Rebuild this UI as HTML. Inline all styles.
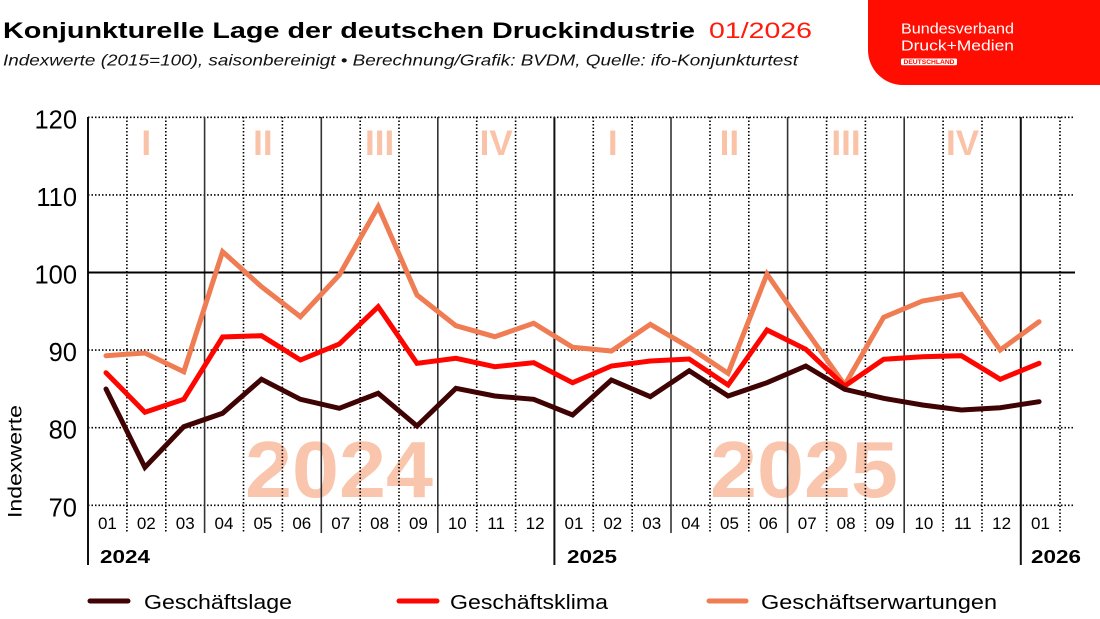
<!DOCTYPE html>
<html>
<head>
<meta charset="utf-8">
<style>
html,body{margin:0;padding:0;background:#fff;}
svg{display:block;}
text{font-family:"Liberation Sans",sans-serif;}
</style>
</head>
<body>
<svg width="1100" height="619" viewBox="0 0 1100 619" xmlns="http://www.w3.org/2000/svg">
  <rect width="1100" height="619" fill="#fff"/>

  <!-- Header -->
  <text x="3" y="38" font-size="22" font-weight="bold" fill="#000" textLength="692" lengthAdjust="spacingAndGlyphs">Konjunkturelle Lage der deutschen Druckindustrie</text>
  <text x="709" y="38" font-size="22" fill="#ff1a0a" textLength="103" lengthAdjust="spacingAndGlyphs">01/2026</text>
  <text x="3" y="65.5" font-size="16" font-style="italic" fill="#111" textLength="795" lengthAdjust="spacingAndGlyphs">Indexwerte (2015=100), saisonbereinigt • Berechnung/Grafik: BVDM, Quelle: ifo-Konjunkturtest</text>

  <!-- Logo -->
  <path d="M868,0 H1100 V85 H903 A35,35 0 0 1 868,50 Z" fill="#ff0d00"/>
  <text x="901" y="33.3" font-size="15" fill="#fff" textLength="113" lengthAdjust="spacingAndGlyphs">Bundesverband</text>
  <text x="901" y="50.7" font-size="15" fill="#fff" textLength="113" lengthAdjust="spacingAndGlyphs">Druck+Medien</text>
  <rect x="901" y="58.5" width="56" height="6.8" rx="1.5" fill="#fff"/>
  <text x="903.5" y="64" font-size="6" font-weight="bold" fill="#ff0d00" textLength="51" lengthAdjust="spacingAndGlyphs">DEUTSCHLAND</text>

  <!-- Watermarks -->
  <g font-weight="bold" fill="#f9c6ad">
    <text x="245" y="497" font-size="80" textLength="188" lengthAdjust="spacingAndGlyphs">2024</text>
    <text x="710" y="497" font-size="80" textLength="188" lengthAdjust="spacingAndGlyphs">2025</text>
  </g>

  <!-- Quarter labels -->
  <g font-weight="bold" fill="#fac3a8" font-size="35" text-anchor="middle">
    <text x="146.3" y="155">I</text>
    <text x="262.9" y="155">II</text>
    <text x="379.6" y="155">III</text>
    <text x="496.2" y="155">IV</text>
    <text x="612.7" y="155">I</text>
    <text x="729.4" y="155">II</text>
    <text x="846" y="155">III</text>
    <text x="962.6" y="155">IV</text>
  </g>

  <!-- Horizontal dotted gridlines -->
  <g stroke="#000" stroke-width="1.6" stroke-dasharray="1.5,2" fill="none">
    <line x1="88" y1="117.3" x2="1075" y2="117.3"/>
    <line x1="88" y1="194.9" x2="1075" y2="194.9"/>
    <line x1="88" y1="350.1" x2="1075" y2="350.1"/>
    <line x1="88" y1="427.7" x2="1075" y2="427.7"/>
    <line x1="88" y1="505.3" x2="1075" y2="505.3"/>
  </g>

  <!-- Vertical dotted month lines -->
  <g stroke="#000" stroke-width="1.6" stroke-dasharray="1.5,2" fill="none">
    <line x1="126.9" y1="117" x2="126.9" y2="533"/>
    <line x1="165.8" y1="117" x2="165.8" y2="533"/>
    <line x1="243.5" y1="117" x2="243.5" y2="533"/>
    <line x1="282.4" y1="117" x2="282.4" y2="533"/>
    <line x1="360.2" y1="117" x2="360.2" y2="533"/>
    <line x1="399" y1="117" x2="399" y2="533"/>
    <line x1="476.7" y1="117" x2="476.7" y2="533"/>
    <line x1="515.6" y1="117" x2="515.6" y2="533"/>
    <line x1="593.3" y1="117" x2="593.3" y2="533"/>
    <line x1="632.2" y1="117" x2="632.2" y2="533"/>
    <line x1="710" y1="117" x2="710" y2="533"/>
    <line x1="748.8" y1="117" x2="748.8" y2="533"/>
    <line x1="826.6" y1="117" x2="826.6" y2="533"/>
    <line x1="865.4" y1="117" x2="865.4" y2="533"/>
    <line x1="943.1" y1="117" x2="943.1" y2="533"/>
    <line x1="982" y1="117" x2="982" y2="533"/>
    <line x1="1060" y1="117" x2="1060" y2="533"/>
  </g>

  <!-- Quarter solid lines -->
  <g stroke="#333" stroke-width="1.6" fill="none">
    <line x1="204.6" y1="117" x2="204.6" y2="533"/>
    <line x1="321.3" y1="117" x2="321.3" y2="533"/>
    <line x1="437.8" y1="117" x2="437.8" y2="533"/>
    <line x1="671" y1="117" x2="671" y2="533"/>
    <line x1="787.6" y1="117" x2="787.6" y2="533"/>
    <line x1="904.2" y1="117" x2="904.2" y2="533"/>
  </g>
  <!-- Year lines -->
  <g stroke="#111" stroke-width="2" fill="none">
    <line x1="88" y1="117" x2="88" y2="565"/>
    <line x1="554.4" y1="117" x2="554.4" y2="565"/>
    <line x1="1020.8" y1="117" x2="1020.8" y2="565"/>
  </g>
  <!-- 100 line -->
  <line x1="88" y1="272.5" x2="1075" y2="272.5" stroke="#000" stroke-width="2"/>

  <!-- Y axis labels -->
  <g font-size="25.5" fill="#000" text-anchor="end">
    <text x="77" y="128.3">120</text>
    <text x="77" y="205.9">110</text>
    <text x="77" y="283.5">100</text>
    <text x="77" y="361.1">90</text>
    <text x="77" y="438.7">80</text>
    <text x="77" y="516.3">70</text>
  </g>
  <text transform="translate(21.5,461.5) rotate(-90)" font-size="19.5" text-anchor="middle" fill="#000" textLength="113" lengthAdjust="spacingAndGlyphs">Indexwerte</text>

  <!-- Month labels -->
  <g font-size="17" fill="#000" text-anchor="middle">
    <text x="107.4" y="529">01</text>
    <text x="146.3" y="529">02</text>
    <text x="185.2" y="529">03</text>
    <text x="224" y="529">04</text>
    <text x="262.9" y="529">05</text>
    <text x="301.8" y="529">06</text>
    <text x="340.7" y="529">07</text>
    <text x="379.6" y="529">08</text>
    <text x="418.4" y="529">09</text>
    <text x="457.3" y="529">10</text>
    <text x="496.2" y="529">11</text>
    <text x="535.1" y="529">12</text>
    <text x="574" y="529">01</text>
    <text x="612.8" y="529">02</text>
    <text x="651.7" y="529">03</text>
    <text x="690.6" y="529">04</text>
    <text x="729.5" y="529">05</text>
    <text x="768.4" y="529">06</text>
    <text x="807.2" y="529">07</text>
    <text x="846.1" y="529">08</text>
    <text x="885" y="529">09</text>
    <text x="923.9" y="529">10</text>
    <text x="962.8" y="529">11</text>
    <text x="1001.6" y="529">12</text>
    <text x="1040.5" y="529">01</text>
  </g>
  <g font-size="18" font-weight="bold" fill="#000">
    <text x="100" y="563" textLength="50" lengthAdjust="spacingAndGlyphs">2024</text>
    <text x="567" y="563" textLength="50" lengthAdjust="spacingAndGlyphs">2025</text>
    <text x="1031" y="563" textLength="50" lengthAdjust="spacingAndGlyphs">2026</text>
  </g>

  <!-- Series -->
  <g fill="none" stroke-width="5" stroke-linecap="round" stroke-linejoin="miter" stroke-miterlimit="10">
    <polyline stroke="#ef7c52" points="106,355.7 144.9,353 183.8,371.7 222.6,251.7 261.5,286.7 300.4,316.7 339.3,275 378.2,206.7 417,295 455.9,325.7 494.8,336.7 533.7,323.3 572.6,347.3 611.4,351 650.3,324.3 689.2,347.3 728.1,373.3 767,274 805.8,330 844.7,385 883.6,317.3 922.5,301 961.4,294.3 1000.2,350 1039.1,321.7"/>
    <polyline stroke="#ff0500" points="106,372.7 144.9,412.3 183.8,399.3 222.6,337 261.5,335.7 300.4,360 339.3,344 378.2,306.7 417,363.3 455.9,358.3 494.8,366.7 533.7,362.7 572.6,382.7 611.4,366 650.3,361 689.2,359 728.1,385 767,330 805.8,349.3 844.7,386 883.6,359.3 922.5,356.7 961.4,355.7 1000.2,379.3 1039.1,363.3"/>
    <polyline stroke="#3f0303" points="106,389 144.9,467.3 183.8,426.7 222.6,413.3 261.5,379.3 300.4,399.3 339.3,408.3 378.2,393.3 417,426 455.9,388.3 494.8,396 533.7,399.3 572.6,415 611.4,380 650.3,396.7 689.2,370.7 728.1,396 767,382.7 805.8,366 844.7,389.3 883.6,398.3 922.5,405 961.4,410 1000.2,407.7 1039.1,401.7"/>
  </g>

  <!-- Legend -->
  <g stroke-width="5" stroke-linecap="round">
    <line x1="90" y1="601" x2="128" y2="601" stroke="#3f0303"/>
    <line x1="399" y1="601" x2="437" y2="601" stroke="#ff0500"/>
    <line x1="709" y1="601" x2="746" y2="601" stroke="#ef7c52"/>
  </g>
  <g font-size="20" fill="#000">
    <text x="144" y="609" textLength="148" lengthAdjust="spacingAndGlyphs">Geschäftslage</text>
    <text x="450" y="609" textLength="158" lengthAdjust="spacingAndGlyphs">Geschäftsklima</text>
    <text x="761" y="609" textLength="236" lengthAdjust="spacingAndGlyphs">Geschäftserwartungen</text>
  </g>
</svg>
</body>
</html>
